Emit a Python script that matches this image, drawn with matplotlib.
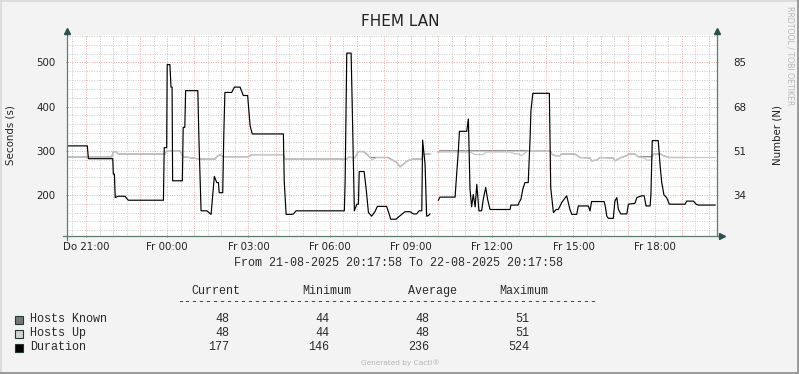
import numpy as np
import matplotlib
matplotlib.use("Agg")
import matplotlib.pyplot as plt
from matplotlib.lines import Line2D
from matplotlib.patches import Rectangle

nan = np.nan

title = "FHEM LAN"
left_label = "Seconds (s)"
right_label = "Number (N)"
period_text = "From 21-08-2025 20:17:58 To 22-08-2025 20:17:58"
x_tick_labels = ["Do 21:00", "Fr 00:00", "Fr 03:00", "Fr 06:00",
                 "Fr 09:00", "Fr 12:00", "Fr 15:00", "Fr 18:00"]
start_clock_h = 20 + 17 / 60 + 58 / 3600          # 20:17:58
first_tick_h = 21.0 - start_clock_h                # hours after start

left_ticks = [200, 300, 400, 500]
right_ticks = [34, 51, 68, 85]

# Duration (seconds), hours after start
dur_t = [0.00, 0.75, 0.79, 1.69, 1.71, 1.75, 1.78, 1.89, 2.14, 2.26,
         3.56, 3.59, 3.68, 3.70, 3.80, 3.84, 3.88, 3.90, 4.26, 4.29,
         4.35, 4.38, 4.83, 4.87, 4.95, 5.16, 5.28, 5.32, 5.44, 5.53,
         5.59, 5.62, 5.75, 5.79, 5.83, 6.08, 6.18, 6.39, 6.51, 6.67,
         6.76, 6.84, 7.99, 8.02, 8.09, 8.30, 8.36, 8.46, 10.24, 10.27,
         10.33, 10.49, 10.53, 10.61, 10.70, 10.76, 10.79, 10.97, 11.04, 11.13,
         11.25, 11.37, 11.46, 11.80, 11.90, 11.95, 12.15, 12.20, 12.36, 12.48,
         12.67, 12.79, 12.91, 13.00, 13.10, 13.13, 13.22, 13.28, 13.34, 13.40,
         nan, 13.71, 13.77, 14.33, 14.36, 14.45, 14.49, 14.76, 14.82, 14.88,
         14.94, 15.00, 15.07, 15.13, 15.21, 15.31, 15.37, 15.46, 15.53, 15.62,
         16.36, 16.39, 16.66, 16.69, 16.76, 16.83, 16.91, 17.03, 17.10, 17.13,
         17.20, 17.81, 17.86, 17.96, 18.06, 18.14, 18.27, 18.45, 18.57, 18.64,
         18.82, 18.88, 19.25, 19.31, 19.37, 19.83, 19.87, 19.93, 19.99, 20.17,
         20.23, 20.30, 20.36, 20.45, 20.67, 20.73, 20.97, 21.04, 21.22, 21.31,
         21.38, 21.53, 21.56, 21.61, 21.83, 21.90, 21.96, 22.04, 22.14, 22.24,
         22.82, 22.88, 23.13, 23.23, 23.31, 23.93]
dur_v = [311, 311, 282, 282, 247, 247, 194, 197, 197, 188,
         188, 307, 307, 495, 495, 444, 444, 232, 232, 353,
         353, 436, 436, 329, 164, 164, 158, 156, 242, 228,
         228, 205, 205, 338, 432, 432, 444, 444, 425, 425,
         357, 338, 338, 232, 156, 156, 157, 164, 164, 232,
         521, 521, 406, 164, 179, 179, 253, 253, 217, 160,
         152, 162, 174, 174, 156, 145, 145, 148, 156, 162,
         162, 157, 157, 164, 164, 324, 270, 152, 153, 157,
         nan, 188, 195, 195, 223, 300, 344, 344, 372, 213,
         173, 201, 173, 224, 164, 164, 190, 217, 190, 167,
         167, 177, 177, 183, 190, 213, 228, 228, 330, 391,
         430, 430, 217, 160, 167, 167, 183, 198, 167, 156,
         156, 175, 175, 164, 185, 185, 176, 152, 147, 147,
         186, 194, 167, 157, 157, 179, 181, 194, 198, 198,
         175, 175, 200, 323, 323, 266, 228, 200, 194, 179,
         179, 186, 186, 179, 177, 177]

# Hosts Up (number)
up_t = [0.00, 1.65, 1.71, 1.81, 1.89, 3.62, 3.68, 4.17, 4.29, 4.91,
        5.47, 5.53, 5.65, 5.77, 6.69, 6.82, 7.99, 8.05, 10.33, 10.39,
        10.63, 10.76, 10.94, 11.07, 11.19, 11.26, 11.44, 11.80, 11.86, 12.17,
        12.30, 12.42, 12.54, 12.67, 12.79, 13.10, 13.16, 13.40, nan, 13.71,
        13.77, 14.88, 15.07, 15.36, 15.47, 16.36, 16.54, 16.66, 16.79, 16.85,
        16.91, 17.03, 17.83, 17.90, 18.02, 18.20, 18.27, 18.76, 18.94, 19.31,
        19.37, 19.56, 19.68, 20.17, 20.23, 20.42, 20.67, 20.73, 20.97, 21.09,
        21.34, 21.40, 21.59, 21.65, 21.83, 21.90, 22.02, 22.24, 23.93]
up_v = [48.6, 48.6, 50.5, 50.7, 49.7, 49.7, 51.0, 51.0, 48.7, 47.8,
        47.8, 48.7, 49.5, 48.7, 48.7, 49.5, 49.5, 47.8, 47.8, 48.5,
        48.3, 50.7, 50.7, 49.7, 48.4, 47.5, 48.4, 48.4, 48.2, 46.5,
        44.8, 45.8, 46.9, 47.5, 47.8, 47.8, 49.7, 49.7, nan, 50.4,
        50.5, 50.5, 49.5, 49.5, 50.5, 50.5, 49.8, 49.8, 49.1, 49.7,
        50.2, 51.0, 51.0, 49.7, 49.1, 49.1, 49.7, 49.7, 48.4, 48.2,
        47.1, 47.4, 48.4, 48.2, 47.1, 48.2, 49.1, 49.7, 49.7, 48.7,
        48.2, 47.4, 47.4, 49.7, 49.7, 49.9, 49.1, 48.4, 48.4]

# Hosts Known (number)
known_t = [0.00, 1.65, 1.71, 1.81, 1.89, 3.62, 3.68, 4.17, 4.29, 4.91,
           5.47, 5.53, 5.65, 5.77, 6.69, 6.82, 7.99, 8.05, 10.33, 10.39,
           10.63, 10.76, 10.94, 11.07, 11.19, 11.86, 12.17, 12.30, 12.42, 12.54,
           12.67, 12.79, 13.10, 13.16, 13.40, nan, 13.71, 13.77, 17.83, 17.90,
           18.02, 18.20, 18.27, 18.76, 18.94, 19.31, 19.37, 19.56, 19.68, 20.17,
           20.23, 20.42, 20.67, 20.73, 20.97, 21.09, 21.56, 21.65, 21.83, 21.90,
           22.02, 22.24, 22.88]
known_v = [48.6, 48.6, 50.5, 50.7, 49.7, 49.7, 51.0, 51.0, 48.7, 47.8,
           47.8, 48.7, 49.5, 48.7, 48.7, 49.5, 49.5, 47.8, 47.8, 48.5,
           48.3, 50.7, 50.7, 49.7, 48.4, 48.4, 46.5, 44.8, 45.8, 46.9,
           47.5, 47.8, 47.8, 49.7, 49.7, nan, 50.4, 51.0, 51.0, 49.7,
           49.1, 49.1, 49.7, 49.7, 48.4, 48.2, 47.1, 47.4, 48.4, 48.2,
           47.1, 48.2, 49.1, 49.7, 49.7, 48.7, 48.7, 49.7, 49.7, 49.9,
           49.1, 48.4, 48.4]

legend_names = ["Hosts Known", "Hosts Up", "Duration"]
legend_colors = ["#7b7676", "#d2d2d2", "#000000"]
stat_headers = ["Current", "Minimum", "Average", "Maximum"]
stat_current = ["48", "48", "177"]
stat_minimum = ["44", "44", "146"]
stat_average = ["48", "48", "236"]
stat_maximum = ["51", "51", "524"]

# ---------------------------------------------------------------
W, H = 799, 374
fig = plt.figure(figsize=(W / 100, H / 100), dpi=100, facecolor="#f3f3f3")

def fx(px):
    return px / W

def fy(py):
    return 1 - py / H

ax_l, ax_r, ax_t, ax_b = 67, 717, 35, 236
ax2 = fig.add_axes([fx(ax_l), fy(ax_b), fx(ax_r - ax_l), (ax_b - ax_t) / H])
ax = ax2.twinx()
ax.yaxis.tick_left()
ax.yaxis.set_label_position("left")
ax2.yaxis.tick_right()
ax2.yaxis.set_label_position("right")
ax.set_zorder(ax2.get_zorder() + 1)
ax.patch.set_visible(False)
ax2.set_facecolor("white")

ymin, ymax = 107, 562
ax.set_ylim(ymin, ymax)
ax2.set_ylim(ymin * 0.17, ymax * 0.17)
ax.set_xlim(0, 24)
ax2.set_xlim(0, 24)

# grid
hour_major = [first_tick_h + i for i in range(-1, 24) if 0 <= first_tick_h + i <= 24]
half_minor = [h + 0.5 for h in hour_major] + [first_tick_h - 0.5]
half_minor = [h for h in half_minor if 0 < h < 24]
for h in half_minor:
    ax.axvline(h, color="#c8c8c8", lw=0.7, ls=(0, (1, 1.5)), zorder=0.5)
for y in range(120, 562, 20):
    if y % 100:
        ax.axhline(y, color="#c8c8c8", lw=0.7, ls=(0, (1, 1.5)), zorder=0.5)
for h in hour_major:
    ax.axvline(h, color="#eaa8a8", lw=0.7, ls=(0, (1, 1.5)), zorder=0.6)
for y in left_ticks:
    ax.axhline(y, color="#eaa8a8", lw=0.7, ls=(0, (1, 1.5)), zorder=0.6)

# data
ax2.plot(known_t, known_v, color="#8a8585", lw=0.9, zorder=2)
ax2.plot(up_t, up_v, color="#c8c8c8", lw=0.9, zorder=3)
ax.plot(dur_t, dur_v, color="#000000", lw=0.85, zorder=4)

# ticks
xticks = [first_tick_h + 3 * i for i in range(len(x_tick_labels))]
for a in (ax, ax2):
    a.set_xticks(xticks)
    a.set_xticklabels(x_tick_labels)
    a.tick_params(axis="x", length=2, width=0.6, pad=3, labelsize=7.4,
                  colors="#222222", direction="inout")
ax.set_yticks(left_ticks)
ax.set_yticklabels([str(v) for v in left_ticks])
ax.tick_params(axis="y", length=2, width=0.6, pad=7, labelsize=7.4,
               colors="#222222", direction="inout")
ax2.set_yticks(right_ticks)
ax2.set_yticklabels([str(v) for v in right_ticks])
ax2.tick_params(axis="y", length=2, width=0.6, pad=11, labelsize=7.4,
                colors="#222222", direction="inout")
for a in (ax, ax2):
    a.tick_params(axis="x", colors="#6b8a7c", labelcolor="#222222")
    a.tick_params(axis="y", colors="#6b8a7c", labelcolor="#222222")

for a in (ax, ax2):
    for s in a.spines.values():
        s.set_visible(False)

axis_col = "#5d7d6e"
# custom axis lines with arrows
ax.plot([0, 0], [-0.02, 1.01], transform=ax.transAxes, color=axis_col,
        lw=0.9, clip_on=False, zorder=6)
ax.plot([1, 1], [0, 1.01], transform=ax.transAxes, color=axis_col,
        lw=0.9, clip_on=False, zorder=6)
ax.plot([-0.006, 1.004], [0, 0], transform=ax.transAxes, color=axis_col,
        lw=0.9, clip_on=False, zorder=6)
ax.plot([0], [1.02], marker="^", ms=4, color="#2f4f4f", transform=ax.transAxes,
        clip_on=False, zorder=7)
ax.plot([1], [1.02], marker="^", ms=4, color="#2f4f4f", transform=ax.transAxes,
        clip_on=False, zorder=7)
ax.plot([1.008], [0], marker=">", ms=4, color="#2f4f4f", transform=ax.transAxes,
        clip_on=False, zorder=7)

# labels
fig.text(fx(400), fy(22), title, ha="center", va="center", fontsize=11,
         color="#222222", family="DejaVu Sans")
fig.text(fx(11), fy(135), left_label, rotation=90, ha="center", va="center",
         fontsize=7.4, color="#222222")
fig.text(fx(778), fy(135), right_label, rotation=90, ha="center", va="center",
         fontsize=7.4, color="#222222")
fig.text(fx(790), fy(56), "RRDTOOL / TOBI OETIKER", rotation=-90, ha="center",
         va="center", fontsize=5.6, color="#b8b8b8")

mono = "Liberation Mono"
mfs = 8.5
tcol = "#2a2a2a"
fig.text(fx(399), fy(263), period_text, ha="center", va="center",
         fontsize=mfs, family=mono, color=tcol)
header_x = [191, 302.5, 408, 499]
for hx, name in zip(header_x, stat_headers):
    fig.text(fx(hx), fy(291), name, ha="left", va="center", fontsize=mfs,
             family=mono, color=tcol)
fig.text(fx(177), fy(302), "-" * 60, ha="left", va="center", fontsize=mfs,
         family=mono, color=tcol)

row_y = [319, 333, 347]
col_right = [229, 329, 429.5, 529]
cols = [stat_current, stat_minimum, stat_average, stat_maximum]
for i, (name, colr) in enumerate(zip(legend_names, legend_colors)):
    y = row_y[i]
    fig.patches.append(Rectangle((fx(15), fy(y + 4.5)), 8 / W, 8 / H,
                                 transform=fig.transFigure, facecolor=colr,
                                 edgecolor="#1f3a35", lw=0.8))
    fig.text(fx(30), fy(y), name, ha="left", va="center", fontsize=mfs,
             family=mono, color=tcol)
    for cx, colvals in zip(col_right, cols):
        fig.text(fx(cx), fy(y), colvals[i], ha="right", va="center",
                 fontsize=mfs, family=mono, color=tcol)

fig.text(fx(400), fy(363), "Generated by Cacti\u00ae", ha="center", va="center",
         fontsize=5.3, color="#b4b4b4")

# figure border
fig.add_artist(Line2D([0, 1], [1 - 0.5 / H, 1 - 0.5 / H], color="#d8d8d8", lw=1.2))
fig.add_artist(Line2D([0.5 / W, 0.5 / W], [0, 1], color="#d8d8d8", lw=1.2))
fig.add_artist(Line2D([0, 1], [1.0 / H, 1.0 / H], color="#9a9a9a", lw=1.4))
fig.add_artist(Line2D([1 - 1.0 / W, 1 - 1.0 / W], [0, 1], color="#9a9a9a", lw=1.4))

fig.savefig("out.png", dpi=100, facecolor=fig.get_facecolor())
